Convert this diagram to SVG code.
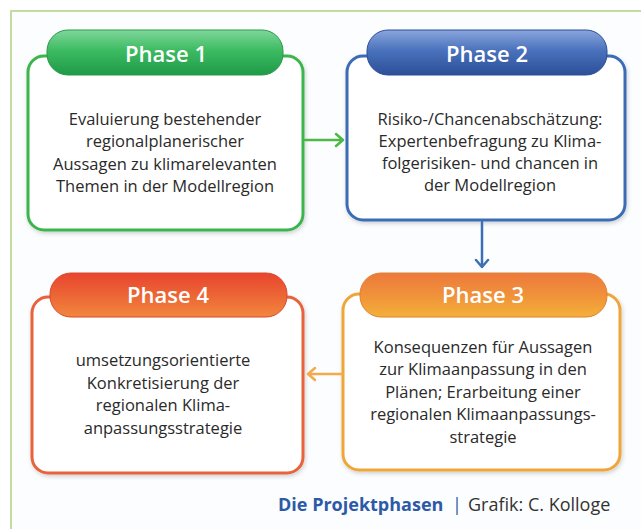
<svg xmlns="http://www.w3.org/2000/svg" width="641" height="529" viewBox="0 0 641 529">
  <defs>
    <linearGradient id="gGreen" x1="0" y1="0" x2="0" y2="1">
      <stop offset="0" stop-color="#7fd79a"/>
      <stop offset="0.45" stop-color="#3dbb62"/>
      <stop offset="1" stop-color="#1f9a48"/>
    </linearGradient>
    <linearGradient id="gBlue" x1="0" y1="0" x2="0" y2="1">
      <stop offset="0" stop-color="#8aa6dc"/>
      <stop offset="0.45" stop-color="#4a72bd"/>
      <stop offset="1" stop-color="#2c4f98"/>
    </linearGradient>
    <linearGradient id="gAmber" x1="0" y1="0" x2="0" y2="1">
      <stop offset="0" stop-color="#ec7a3c"/>
      <stop offset="0.5" stop-color="#f0913a"/>
      <stop offset="1" stop-color="#f4b03a"/>
    </linearGradient>
    <linearGradient id="gRed" x1="0" y1="0" x2="0" y2="1">
      <stop offset="0" stop-color="#e8452e"/>
      <stop offset="0.5" stop-color="#ec6535"/>
      <stop offset="1" stop-color="#f2873e"/>
    </linearGradient>
    <filter id="sh" x="-10%" y="-10%" width="120%" height="130%">
      <feDropShadow dx="1" dy="2" stdDeviation="2" flood-color="#000" flood-opacity="0.18"/>
    </filter>
  </defs>
  <style>
    .box { fill: #ffffff; stroke-width: 3; }
    .pill { stroke-width: 1; }
    .head { font-family: "Open Sans", "Noto Sans", sans-serif; font-size: 22px; font-weight: 600; fill: #ffffff; text-anchor: middle; }
    .body { font-family: "Open Sans", "Noto Sans", sans-serif; font-size: 16.5px; fill: #2a2a2a; text-anchor: middle; }
    .arrow { fill: none; stroke-width: 2.5; stroke-linecap: round; stroke-linejoin: round; }
    .foot { font-family: "Open Sans", "Noto Sans", sans-serif; font-size: 18px; }
  </style>

  <rect x="0" y="0" width="641" height="529" fill="#ffffff"/>
  <rect x="11" y="11" width="640" height="530" fill="#fcfdfe" stroke="#c4dca2" stroke-width="2"/>

  <g id="phase1">
    <rect class="box" x="28" y="56" width="275" height="174" rx="16" stroke="#3db54e" filter="url(#sh)"/>
    <rect class="pill" x="47" y="30" width="236" height="45" rx="21" fill="url(#gGreen)" stroke="#2a9a48"/>
    <text class="head" x="166" y="62">Phase 1</text>
    <text class="body" x="165" y="125">Evaluierung bestehender</text>
    <text class="body" x="165" y="147">regionalplanerischer</text>
    <text class="body" x="165" y="170">Aussagen zu klimarelevanten</text>
    <text class="body" x="165" y="192">Themen in der Modellregion</text>
  </g>

  <g id="phase2">
    <rect class="box" x="347" y="56" width="278" height="164" rx="16" stroke="#3a6cb5" filter="url(#sh)"/>
    <rect class="pill" x="367" y="30" width="240" height="45" rx="21" fill="url(#gBlue)" stroke="#2c4f98"/>
    <text class="head" x="487" y="62">Phase 2</text>
    <text class="body" x="490" y="125">Risiko-/Chancenabschätzung:</text>
    <text class="body" x="490" y="147">Expertenbefragung zu Klima-</text>
    <text class="body" x="490" y="169">folgerisiken- und chancen in</text>
    <text class="body" x="490" y="191">der Modellregion</text>
  </g>

  <g id="phase3">
    <rect class="box" x="343" y="294" width="277" height="176" rx="16" stroke="#f0a538" filter="url(#sh)"/>
    <rect class="pill" x="360" y="273" width="247" height="44" rx="21" fill="url(#gAmber)" stroke="#e0812f"/>
    <text class="head" x="483" y="303">Phase 3</text>
    <text class="body" x="483" y="353">Konsequenzen für Aussagen</text>
    <text class="body" x="483" y="375">zur Klimaanpassung in den</text>
    <text class="body" x="483" y="398">Plänen; Erarbeitung einer</text>
    <text class="body" x="483" y="420">regionalen Klimaanpassungs-</text>
    <text class="body" x="483" y="443">strategie</text>
  </g>

  <g id="phase4">
    <rect class="box" x="32" y="297" width="271" height="176" rx="16" stroke="#e8623a" filter="url(#sh)"/>
    <rect class="pill" x="50" y="273" width="237" height="44" rx="21" fill="url(#gRed)" stroke="#d9482c"/>
    <text class="head" x="168" y="303">Phase 4</text>
    <text class="body" x="163" y="366">umsetzungsorientierte</text>
    <text class="body" x="163" y="389">Konkretisierung der</text>
    <text class="body" x="163" y="411">regionalen Klima-</text>
    <text class="body" x="163" y="434">anpassungsstrategie</text>
  </g>

  <g id="connectors">
    <path class="arrow" stroke="#4cb848" d="M305 140 H343 M336 134 L343 140 L336 146"/>
    <path class="arrow" stroke="#3d6fb6" d="M482 222 V267 M476 260 L482 267 L488 260"/>
    <path class="arrow" stroke="#f2aa4a" d="M343 374 H308 M315 368 L308 374 L315 380"/>
  </g>

  <g id="caption">
    <text class="foot" x="278" y="511" font-weight="700" fill="#2c5aa6">Die Projektphasen</text>
    <text class="foot" x="457" y="511" fill="#2c5aa6" text-anchor="middle">|</text>
    <text class="foot" x="468" y="511" fill="#333333">Grafik: C. Kolloge</text>
  </g>
</svg>
